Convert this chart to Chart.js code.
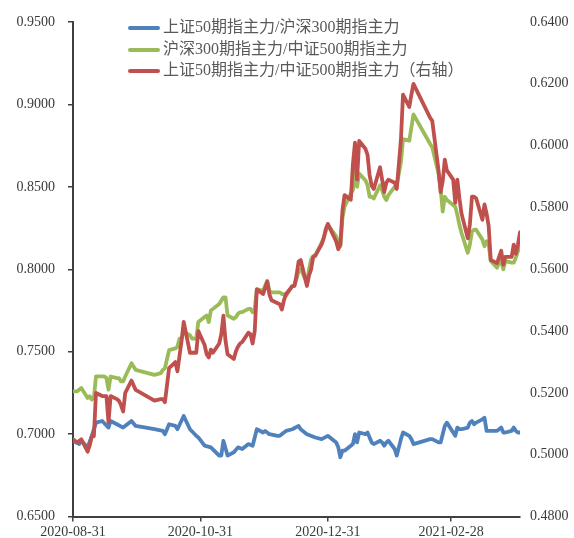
<!DOCTYPE html>
<html>
<head>
<meta charset="utf-8">
<script src="https://cdn.jsdelivr.net/npm/chart.js@4.4.1/dist/chart.umd.min.js"></script>
<style>
  body { margin: 0; background: #fff; }
  #wrap { position: relative; width: 574px; height: 538px; }
  #legend { position: absolute; left: 128px; top: 16px; font-family: "Liberation Serif", "Noto Sans CJK SC", serif; font-size: 16px; color: #595959; }
  #legend div { height: 21.5px; line-height: 21.5px; white-space: nowrap; }
  #legend span.swatch { display: inline-block; width: 32px; height: 4px; border-radius: 2px; vertical-align: middle; margin-right: 3px; }
</style>
</head>
<body>
<div id="wrap">
  <canvas id="chart" width="574" height="538"></canvas>
  <div id="legend"></div>
</div>
<script>
const seriesNames = ["上证50期指主力/沪深300期指主力", "沪深300期指主力/中证500期指主力", "上证50期指主力/中证500期指主力（右轴）"]
const xTickDates = ["2020-08-31", "2020-10-31", "2020-12-31", "2021-02-28"]
const xStart = "2020-08-31"
const xEnd = "2021-04-02"

const blueDates = ["2020-08-31","2020-09-03","2020-09-04","2020-09-07","2020-09-09","2020-09-11","2020-09-14","2020-09-17","2020-09-18","2020-09-21","2020-09-24","2020-09-28","2020-09-30","2020-10-09","2020-10-13","2020-10-14","2020-10-16","2020-10-19","2020-10-20","2020-10-23","2020-10-26","2020-10-29","2020-10-30","2020-11-02","2020-11-05","2020-11-09","2020-11-10","2020-11-11","2020-11-13","2020-11-16","2020-11-18","2020-11-20","2020-11-23","2020-11-25","2020-11-27","2020-11-30","2020-12-01","2020-12-03","2020-12-07","2020-12-08","2020-12-10","2020-12-11","2020-12-14","2020-12-17","2020-12-18","2020-12-21","2020-12-25","2020-12-28","2020-12-31","2021-01-04","2021-01-05","2021-01-06","2021-01-07","2021-01-08","2021-01-11","2021-01-12","2021-01-13","2021-01-14","2021-01-15","2021-01-18","2021-01-19","2021-01-21","2021-01-22","2021-01-25","2021-01-26","2021-01-27","2021-01-28","2021-01-29","2021-02-01","2021-02-02","2021-02-04","2021-02-05","2021-02-08","2021-02-09","2021-02-10","2021-02-18","2021-02-19","2021-02-22","2021-02-23","2021-02-25","2021-02-26","2021-03-01","2021-03-02","2021-03-03","2021-03-04","2021-03-05","2021-03-08","2021-03-09","2021-03-10","2021-03-11","2021-03-12","2021-03-15","2021-03-16","2021-03-17","2021-03-18","2021-03-19","2021-03-22","2021-03-23","2021-03-24","2021-03-25","2021-03-26","2021-03-29","2021-03-30","2021-03-31","2021-04-01","2021-04-02"]
const blueValues = [0.696,0.694,0.696,0.692,0.699,0.707,0.708,0.704,0.708,0.706,0.704,0.708,0.705,0.703,0.702,0.700,0.706,0.705,0.703,0.711,0.703,0.699,0.698,0.693,0.692,0.687,0.687,0.696,0.687,0.689,0.692,0.691,0.694,0.693,0.703,0.701,0.702,0.700,0.699,0.699,0.701,0.702,0.703,0.705,0.703,0.700,0.698,0.697,0.699,0.695,0.692,0.686,0.690,0.690,0.693,0.694,0.700,0.695,0.701,0.700,0.701,0.695,0.694,0.696,0.695,0.693,0.695,0.696,0.691,0.687,0.697,0.701,0.699,0.697,0.694,0.697,0.697,0.695,0.695,0.705,0.707,0.701,0.699,0.704,0.703,0.703,0.704,0.707,0.708,0.706,0.707,0.709,0.710,0.702,0.702,0.702,0.702,0.703,0.704,0.701,0.701,0.702,0.704,0.702,0.701,0.701]

const greenDates = ["2020-08-31","2020-09-02","2020-09-04","2020-09-07","2020-09-08","2020-09-09","2020-09-10","2020-09-11","2020-09-14","2020-09-15","2020-09-16","2020-09-17","2020-09-18","2020-09-21","2020-09-22","2020-09-23","2020-09-24","2020-09-25","2020-09-28","2020-09-29","2020-09-30","2020-10-09","2020-10-12","2020-10-13","2020-10-14","2020-10-16","2020-10-19","2020-10-20","2020-10-21","2020-10-22","2020-10-23","2020-10-26","2020-10-27","2020-10-29","2020-10-30","2020-11-02","2020-11-03","2020-11-04","2020-11-05","2020-11-06","2020-11-09","2020-11-10","2020-11-11","2020-11-12","2020-11-13","2020-11-16","2020-11-17","2020-11-18","2020-11-19","2020-11-20","2020-11-23","2020-11-24","2020-11-25","2020-11-26","2020-11-27","2020-11-30","2020-12-01","2020-12-02","2020-12-03","2020-12-04","2020-12-07","2020-12-08","2020-12-09","2020-12-10","2020-12-11","2020-12-14","2020-12-15","2020-12-16","2020-12-17","2020-12-18","2020-12-21","2020-12-22","2020-12-23","2020-12-24","2020-12-25","2020-12-28","2020-12-29","2020-12-30","2020-12-31","2021-01-04","2021-01-05","2021-01-06","2021-01-07","2021-01-08","2021-01-11","2021-01-12","2021-01-13","2021-01-14","2021-01-15","2021-01-18","2021-01-19","2021-01-20","2021-01-21","2021-01-22","2021-01-25","2021-01-26","2021-01-27","2021-01-28","2021-01-29","2021-02-01","2021-02-02","2021-02-04","2021-02-05","2021-02-08","2021-02-09","2021-02-10","2021-02-18","2021-02-19","2021-02-22","2021-02-23","2021-02-24","2021-02-25","2021-02-26","2021-03-01","2021-03-02","2021-03-03","2021-03-04","2021-03-05","2021-03-08","2021-03-09","2021-03-10","2021-03-11","2021-03-12","2021-03-15","2021-03-16","2021-03-17","2021-03-18","2021-03-19","2021-03-22","2021-03-23","2021-03-24","2021-03-25","2021-03-26","2021-03-29","2021-03-30","2021-03-31","2021-04-01","2021-04-02"]
const greenValues = [0.726,0.726,0.728,0.722,0.723,0.721,0.722,0.735,0.735,0.735,0.734,0.727,0.735,0.734,0.734,0.732,0.732,0.735,0.743,0.741,0.739,0.736,0.737,0.739,0.740,0.751,0.752,0.753,0.758,0.758,0.762,0.760,0.758,0.758,0.768,0.771,0.772,0.768,0.775,0.776,0.779,0.781,0.783,0.783,0.772,0.770,0.771,0.773,0.774,0.774,0.776,0.776,0.774,0.776,0.788,0.787,0.790,0.793,0.787,0.786,0.786,0.786,0.785,0.785,0.784,0.790,0.790,0.794,0.799,0.800,0.792,0.800,0.806,0.808,0.808,0.816,0.819,0.823,0.827,0.820,0.816,0.814,0.831,0.838,0.846,0.848,0.861,0.850,0.858,0.854,0.851,0.844,0.844,0.843,0.851,0.848,0.844,0.842,0.845,0.850,0.851,0.865,0.879,0.878,0.886,0.894,0.876,0.874,0.858,0.849,0.835,0.844,0.842,0.839,0.838,0.833,0.827,0.822,0.810,0.815,0.823,0.824,0.824,0.818,0.814,0.817,0.815,0.805,0.801,0.804,0.805,0.800,0.805,0.804,0.804,0.807,0.811,0.816]

const redDates = greenDates
const redValues = [0.505,0.504,0.505,0.501,0.503,0.506,0.506,0.520,0.519,0.519,0.519,0.5105,0.519,0.518,0.5175,0.516,0.514,0.520,0.524,0.5225,0.521,0.5175,0.518,0.518,0.517,0.528,0.530,0.527,0.532,0.537,0.543,0.533,0.533,0.533,0.540,0.5355,0.5325,0.5315,0.534,0.533,0.536,0.539,0.545,0.537,0.5325,0.531,0.5335,0.535,0.536,0.5365,0.5395,0.539,0.536,0.540,0.5535,0.552,0.554,0.556,0.552,0.550,0.549,0.5487,0.547,0.550,0.552,0.5545,0.5546,0.558,0.5625,0.563,0.5546,0.558,0.560,0.564,0.5645,0.568,0.570,0.573,0.5747,0.569,0.5665,0.568,0.579,0.584,0.5825,0.594,0.601,0.589,0.6015,0.599,0.597,0.5905,0.587,0.586,0.593,0.589,0.585,0.588,0.589,0.588,0.586,0.602,0.6165,0.6125,0.6165,0.620,0.609,0.608,0.592,0.585,0.5885,0.5955,0.592,0.589,0.5815,0.589,0.583,0.578,0.570,0.5745,0.5835,0.5835,0.583,0.576,0.581,0.578,0.574,0.563,0.562,0.564,0.566,0.5615,0.564,0.564,0.568,0.565,0.568,0.572]

const colors = ["#4F81BD", "#9BBB59", "#C0504D"]

// days since the first date, so the x axis is spaced by calendar days
const dayOf = (s) => {
	const [y, m, d] = s.split("-").map(Number)
	const [y0, m0, d0] = xStart.split("-").map(Number)
	return Math.round((Date.UTC(y, m - 1, d) - Date.UTC(y0, m0 - 1, d0)) / 86400000)
}
const dateOf = (n) => {
	const [y0, m0, d0] = xStart.split("-").map(Number)
	return new Date(Date.UTC(y0, m0 - 1, d0) + n * 86400000).toISOString().slice(0, 10)
}
const toPoints = (dates, values) => dates.map((d, i) => ({ x: dayOf(d), y: values[i] }))

const font = { family: "'Liberation Serif', 'Noto Sans CJK SC', serif", size: 14 }
const axisColor = "#404040"
const labelColor = "#3a3a3a"

const config = {
	type: "line",
	data: {
		datasets: [
			{ label: seriesNames[0], data: toPoints(blueDates, blueValues), borderColor: colors[0], yAxisID: "y", order: 3 },
			{ label: seriesNames[1], data: toPoints(greenDates, greenValues), borderColor: colors[1], yAxisID: "y", order: 2 },
			{ label: seriesNames[2], data: toPoints(redDates, redValues), borderColor: colors[2], yAxisID: "y1", order: 1 },
		],
	},
	options: {
		responsive: false,
		animation: false,
		devicePixelRatio: 1,
		layout: { padding: { top: 22, left: 0, right: 0, bottom: 0 } },
		elements: {
			point: { radius: 0 },
			line: { borderWidth: 3.8, tension: 0, borderJoinStyle: "round", borderCapStyle: "round" },
		},
		plugins: { legend: { display: false }, tooltip: { enabled: false } },
		scales: {
			x: {
				type: "linear",
				min: dayOf(xStart),
				max: dayOf(xEnd),
				grid: { drawOnChartArea: false, drawTicks: true, tickLength: 5, color: axisColor, lineWidth: 1.5 },
				border: { display: true, color: axisColor, width: 2 },
				afterBuildTicks: (s) => { s.ticks = xTickDates.map((d) => ({ value: dayOf(d) })) },
				afterFit: (s) => { s.height = 20 },
				ticks: { font, color: labelColor, padding: 2, maxRotation: 0, autoSkip: false, callback: (v) => dateOf(v) },
			},
			y: {
				position: "left",
				min: 0.65,
				max: 0.95,
				grid: { drawOnChartArea: false, drawTicks: true, tickLength: 5, color: axisColor, lineWidth: 1.5 },
				border: { display: true, color: axisColor, width: 2 },
				afterFit: (s) => { s.width = 73 },
				ticks: { font, color: labelColor, stepSize: 0.05, padding: 13, callback: (v) => v.toFixed(4) },
			},
			y1: {
				position: "right",
				min: 0.48,
				max: 0.64,
				grid: { display: false, drawTicks: false },
				border: { display: false },
				afterFit: (s) => { s.width = 54 },
				ticks: { font, color: labelColor, stepSize: 0.02, padding: 10, callback: (v) => v.toFixed(4) },
			},
		},
	},
}

const chart = new Chart(document.getElementById("chart"), config)

// legend sits inside the plot, like the original
const legend = document.getElementById("legend")
chart.data.datasets.forEach((ds) => {
	const row = document.createElement("div")
	const sw = document.createElement("span")
	sw.className = "swatch"
	sw.style.background = ds.borderColor
	row.appendChild(sw)
	row.appendChild(document.createTextNode(ds.label))
	legend.appendChild(row)
})
</script>
</body>
</html>
